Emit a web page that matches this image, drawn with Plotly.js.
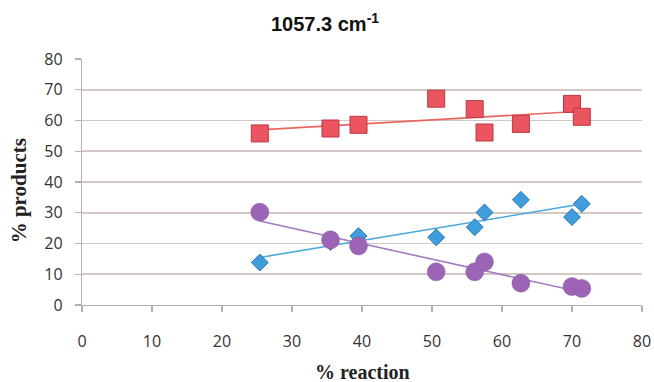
<!DOCTYPE html>
<html>
<head>
<meta charset="utf-8">
<script src="https://cdn.plot.ly/plotly-3.0.1.min.js"></script>
<style>html,body{margin:0;padding:0;background:#fff;}#chart{width:654px;height:382px;}</style>
</head>
<body>
<div id="chart"></div>
<script>
// % reaction (x) shared by all three series
const reaction = [25.4, 35.5, 39.5, 50.6, 56.1, 57.5, 62.7, 70.0, 71.4];
// red squares
const seriesRed = [55.8, 57.4, 58.6, 67.1, 63.7, 56.1, 58.9, 65.4, 61.2];
// blue diamonds
const seriesBlue = [13.8, 20.5, 22.4, 22.0, 25.3, 30.1, 34.2, 28.6, 32.9];
// purple circles
const seriesPurple = [30.2, 21.2, 19.2, 10.8, 10.8, 14.0, 7.1, 6.0, 5.4];
const xTicks = [0, 10, 20, 30, 40, 50, 60, 70, 80];
const yTicks = [0, 10, 20, 30, 40, 50, 60, 70, 80];

function fit(xs, ys) {
  const n = xs.length;
  const mx = xs.reduce((a, b) => a + b, 0) / n;
  const my = ys.reduce((a, b) => a + b, 0) / n;
  let sxy = 0, sxx = 0;
  for (let i = 0; i < n; i++) { sxy += (xs[i] - mx) * (ys[i] - my); sxx += (xs[i] - mx) ** 2; }
  const b = sxy / sxx, a = my - b * mx;
  const x0 = Math.min(...xs), x1 = Math.max(...xs);
  return { x: [x0, x1], y: [a + b * x0, a + b * x1] };
}

function trend(ys, color) {
  const f = fit(reaction, ys);
  return { x: f.x, y: f.y, mode: 'lines', line: { color: color, width: 1.6 }, hoverinfo: 'skip', showlegend: false };
}

const data = [
  trend(seriesRed, '#e8665e'),
  trend(seriesBlue, '#4ea6dc'),
  trend(seriesPurple, '#a47ac0'),
  { x: reaction, y: seriesRed, mode: 'markers', showlegend: false,
    marker: { symbol: 'square', size: 17, color: '#ea5560', line: { color: '#bf3640', width: 1 } } },
  { x: reaction, y: seriesBlue, mode: 'markers', showlegend: false,
    marker: { symbol: 'diamond', size: 13, color: '#3f9ddc', line: { color: '#2a78b4', width: 1 } } },
  { x: reaction, y: seriesPurple, mode: 'markers', showlegend: false,
    marker: { symbol: 'circle', size: 18, color: '#9c64b4', line: { color: '#8a54a2', width: 0.5 } } }
];

const tickFont = { family: 'Open Sans, sans-serif', size: 16, color: '#333' };
const titleFont = { family: 'Liberation Serif, serif', size: 20, color: '#222' };

const layout = {
  width: 654, height: 382,
  margin: { l: 82, r: 12, t: 59, b: 77 },
  paper_bgcolor: '#fff', plot_bgcolor: '#fff',
  showlegend: false,
  title: { text: '<b>1057.3 cm<sup>-1</sup></b>', font: { family: 'Liberation Sans, Arial, sans-serif', size: 20, color: '#111' },
           x: 0.497, xanchor: 'center', xref: 'container', y: 0.937, yanchor: 'middle', yref: 'container' },
  xaxis: {
    range: [0, 80], tickvals: xTicks, ticktext: xTicks.map(String),
    showgrid: false, zeroline: false, showline: true, linecolor: '#b9b0ad', linewidth: 1.2,
    ticks: 'outside', ticklen: 6, tickcolor: '#b9b0ad', tickwidth: 1.2,
    ticklabelstandoff: 16, tickfont: tickFont, fixedrange: true
  },
  yaxis: {
    range: [0, 80], tickvals: yTicks, ticktext: yTicks.map(String),
    showgrid: true, gridcolor: '#d4c8c4', gridwidth: 1.6, zeroline: false,
    showline: true, linecolor: '#b9b0ad', linewidth: 1.2,
    ticks: 'outside', ticklen: 6, tickcolor: '#b9b0ad', tickwidth: 1.2,
    ticklabelstandoff: 9, tickfont: tickFont, fixedrange: true
  },
  annotations: [
    { text: '<b>% reaction</b>', xref: 'paper', yref: 'paper', x: 0.5, y: -0.273, xanchor: 'center', yanchor: 'middle', showarrow: false, font: titleFont },
    { text: '<b>% products</b>', xref: 'paper', yref: 'paper', x: -0.1134, y: 0.464, xanchor: 'center', yanchor: 'middle', textangle: -90, showarrow: false, font: { family: 'Liberation Serif, serif', size: 21, color: '#222' } }
  ]
};

Plotly.newPlot('chart', data, layout, { displayModeBar: false, staticPlot: true });
</script>
</body>
</html>
